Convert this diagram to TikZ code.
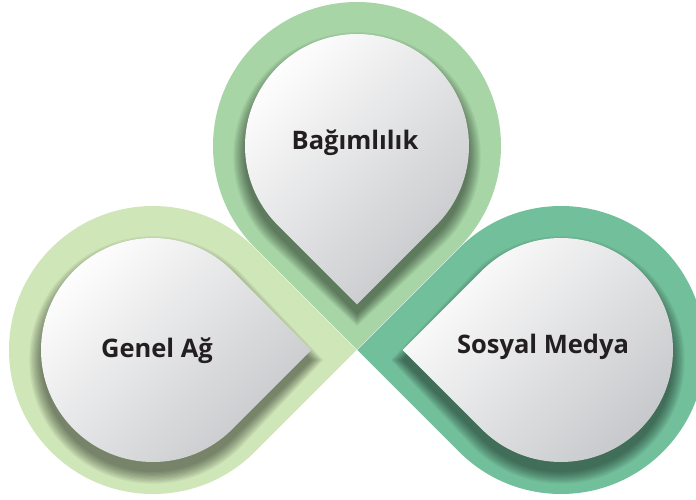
\documentclass[tikz,border=0pt]{standalone}
\usepackage{fontspec}
\setmainfont{Open Sans}
\definecolor{ringtop}{HTML}{A7D5A6}
\definecolor{ringleft}{HTML}{CFE6B8}
\definecolor{ringright}{HTML}{72BF9B}
\definecolor{dropgray}{HTML}{C6C7CA}
\definecolor{labeltext}{HTML}{231F20}
% drop: centre x, centre y, radius, direction of the tip
\newcommand{\drop}[4]{[shift={(#1,#2)}] (#4:{1.4142*#3}) -- (#4+45:#3) arc[start angle={#4+45}, delta angle=270, radius=#3] -- cycle}
\begin{document}
\begin{tikzpicture}[x=1pt,y=1pt]

    \tikzset{
      inner drop/.style={
        top color=white,
        bottom color=dropgray,
        shading angle=45,
      },
      drop label/.style={
        anchor=base,
        text=labeltext,
        font=\fontsize{25.5}{30}\selectfont\bfseries,
      },
    }
    \clip (0,0) rectangle (696,499);
	% outer rings
	\fill[ringleft] \drop{153}{149}{144}{0};
	\fill[ringright] \drop{561}{149}{144}{180};
	\fill[ringtop] \drop{357}{353}{144}{-90};
	% shadows
	\begin{scope}
	  \clip \drop{153}{149}{144}{0};
	  \foreach \k in {0,...,9}
	    \fill[black, opacity=0.05] \drop{153}{139}{112+1.3*\k}{0};
	\end{scope}
	\begin{scope}
	  \clip \drop{561}{149}{144}{180};
	  \foreach \k in {0,...,9}
	    \fill[black, opacity=0.05] \drop{561}{139}{112+1.3*\k}{180};
	\end{scope}
	\begin{scope}
	  \clip \drop{357}{353}{144}{-90};
	  \foreach \k in {0,...,9}
	    \fill[black, opacity=0.05] \drop{357}{343}{112+1.3*\k}{-90};
	\end{scope}
	% inner drops
	\shade[inner drop] \drop{153}{149}{112}{0};
	\shade[inner drop] \drop{561}{149}{112}{180};
	\shade[inner drop] \drop{357}{353}{112}{-90};
	% labels
	\node (bagimlilik) [drop label] at (355,349) {Bağımlılık};
	\node (genelag) [drop label] at (157,142) {Genel Ağ};
	\node (sosyalmedya) [drop label] at (543,146) {Sosyal Medya};

\end{tikzpicture}
\end{document}
